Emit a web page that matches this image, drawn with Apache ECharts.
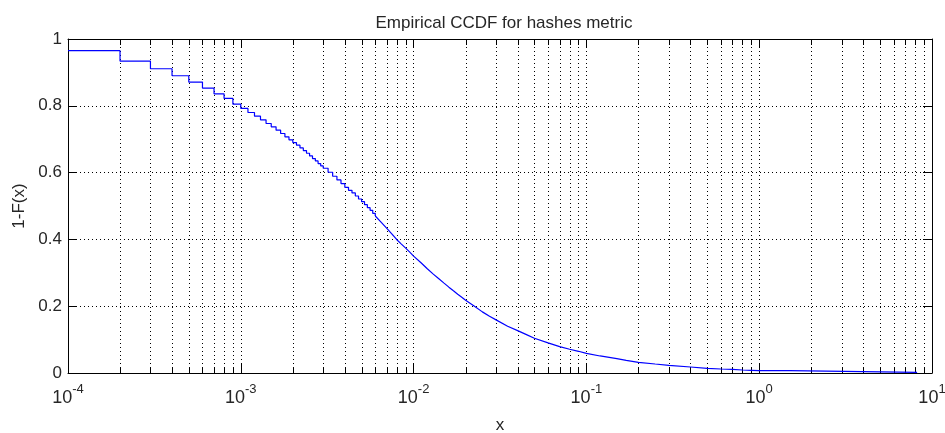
<!DOCTYPE html>
<html><head><meta charset="utf-8">
<script src="https://cdn.jsdelivr.net/npm/echarts@6/dist/echarts.min.js"></script>
<style>html,body{margin:0;padding:0;background:#fff}#c{width:945px;height:433px}</style>
</head><body><div id="c"></div>
<script>
const titleText = 'Empirical CCDF for hashes metric';
const xName = 'x';
const yName = '1-F(x)';

// coarse part of the CCDF where individual steps are visible
const stepX = [
  1e-4, 2e-4, 3e-4, 4e-4, 5e-4, 6e-4, 7e-4, 8e-4, 9e-4,
  1.0e-3, 1.1e-3, 1.2e-3, 1.3e-3, 1.4e-3, 1.5e-3, 1.6e-3, 1.7e-3, 1.8e-3, 1.9e-3,
  2.0e-3, 2.1e-3, 2.2e-3, 2.3e-3, 2.4e-3, 2.5e-3, 2.6e-3, 2.7e-3, 2.8e-3, 2.9e-3,
  3.0e-3, 3.2e-3, 3.4e-3, 3.6e-3, 3.8e-3, 4.0e-3, 4.2e-3, 4.4e-3, 4.6e-3, 4.8e-3,
  5.0e-3, 5.2e-3, 5.4e-3, 5.6e-3, 5.8e-3, 6.0e-3
];
const stepY = [
  0.965, 0.934, 0.911, 0.890, 0.871, 0.853, 0.836, 0.822, 0.805,
  0.792, 0.780, 0.769, 0.758, 0.747, 0.737, 0.727, 0.717, 0.707, 0.698,
  0.690, 0.682, 0.674, 0.666, 0.658, 0.650, 0.642, 0.635, 0.627, 0.620,
  0.613, 0.601, 0.589, 0.578, 0.567, 0.556, 0.547, 0.539, 0.530, 0.521,
  0.513, 0.504, 0.495, 0.487, 0.478, 0.470
];
// dense part where steps merge into a smooth curve
const smoothX = [
  6.0e-3, 6.5e-3, 7.0e-3, 7.5e-3, 8.0e-3, 8.5e-3, 9.0e-3, 9.5e-3,
  0.010, 0.011, 0.012, 0.013, 0.014, 0.015, 0.016, 0.017, 0.018, 0.019,
  0.020, 0.0225, 0.025, 0.0275, 0.030, 0.035, 0.040, 0.045, 0.050,
  0.060, 0.070, 0.080, 0.090, 0.10, 0.12, 0.15, 0.17, 0.20, 0.25, 0.30,
  0.40, 0.50, 0.60, 0.70, 0.80, 0.90, 1.0, 1.5, 1.5, 8.2
];
const smoothY = [
  0.470, 0.451, 0.433, 0.416, 0.399, 0.386, 0.374, 0.362,
  0.350, 0.331, 0.312, 0.296, 0.282, 0.269, 0.257, 0.246, 0.236, 0.227,
  0.218, 0.200, 0.183, 0.170, 0.159, 0.140, 0.127, 0.115, 0.104,
  0.090, 0.079, 0.071, 0.065, 0.059, 0.051, 0.043, 0.038, 0.032, 0.027, 0.023,
  0.018, 0.014, 0.012, 0.011, 0.009, 0.008, 0.007, 0.007, 0.002, 0.002
];

const xMin = 1e-4, xMax = 10;
const yMin = 0, yMax = 1, yStep = 0.2;
const decades = [1e-4, 1e-3, 1e-2, 1e-1, 1];
const minorMultipliers = [2, 3, 4, 5, 6, 7, 8, 9];
const minorTicks = [];
decades.forEach(d => minorMultipliers.forEach(m => minorTicks.push(m * d)));

const FONT = '"Liberation Sans", Arial, Helvetica, sans-serif';
const TXT = '#262626';
const AX = '#000';
const LINE = '#0000ff';

const chart = echarts.init(document.getElementById('c'), null, {renderer: 'canvas'});

function px(v) { return Math.round(v) + 0.5; }

const option = {
  animation: false,
  backgroundColor: '#fff',
  title: {
    text: titleText, left: 499, top: 10, textAlign: 'center',
    textStyle: {fontFamily: FONT, fontSize: 17, fontWeight: 'normal', color: TXT}
  },
  grid: {left: 68, right: 13, top: 39, bottom: 60, containLabel: false, outerBoundsMode: 'none'},
  xAxis: [{
    type: 'log', logBase: 10, min: xMin, max: xMax, position: 'bottom',
    name: xName, nameLocation: 'middle', nameGap: 44,
    nameTextStyle: {fontFamily: FONT, fontSize: 17, color: TXT},
    axisLine: {show: true, onZero: false, lineStyle: {color: AX, width: 1}},
    axisTick: {show: true, inside: true, length: 9, lineStyle: {color: AX}},
    splitLine: {show: true, lineStyle: {color: AX, width: 1, type: [1, 3]}},
    axisLabel: {
      margin: 10,
      formatter: function (v) {
        const e = Math.round(Math.log10(v));
        return '{b|10}{s|' + e + '}';
      },
      rich: {
        b: {fontFamily: FONT, fontSize: 18, color: TXT, lineHeight: 24, verticalAlign: 'bottom'},
        s: {fontFamily: FONT, fontSize: 13, color: TXT, lineHeight: 24, verticalAlign: 'top'}
      }
    }
  }, {
    type: 'log', logBase: 10, min: xMin, max: xMax, position: 'top',
    axisLine: {show: true, onZero: false, lineStyle: {color: AX, width: 1}},
    axisTick: {show: true, inside: true, length: 9, lineStyle: {color: AX}},
    splitLine: {show: false},
    axisLabel: {show: false}
  }],
  yAxis: [{
    type: 'value', min: yMin, max: yMax, interval: yStep, position: 'left',
    name: yName, nameLocation: 'middle', nameGap: 40, nameRotate: 90,
    nameTextStyle: {fontFamily: FONT, fontSize: 17, color: TXT},
    axisLine: {show: true, onZero: false, lineStyle: {color: AX, width: 1}},
    axisTick: {show: true, inside: true, length: 9, lineStyle: {color: AX}},
    splitLine: {show: true, lineStyle: {color: AX, width: 1, type: [1, 3]}},
    axisLabel: {margin: 6, fontFamily: FONT, fontSize: 17, color: TXT}
  }, {
    type: 'value', min: yMin, max: yMax, interval: yStep, position: 'right',
    axisLine: {show: true, onZero: false, lineStyle: {color: AX, width: 1}},
    axisTick: {show: true, inside: true, length: 9, lineStyle: {color: AX}},
    splitLine: {show: false},
    axisLabel: {show: false}
  }],
  series: [{
    type: 'custom',
    xAxisIndex: 0, yAxisIndex: 0,
    silent: true, z: 1,
    data: minorTicks.map(v => [v, 0]),
    renderItem: function (params, api) {
      const p = api.coord([api.value(0), 0]);
      const cs = params.coordSys;
      const x = px(p[0]);
      const top = cs.y, bot = cs.y + cs.height;
      return {
        type: 'group',
        children: [
          {type: 'line', shape: {x1: x, y1: top, x2: x, y2: bot},
           style: {stroke: AX, lineWidth: 1, lineDash: [1, 3]}},
          {type: 'line', shape: {x1: x, y1: bot, x2: x, y2: bot - 6},
           style: {stroke: AX, lineWidth: 1}},
          {type: 'line', shape: {x1: x, y1: top, x2: x, y2: top + 6},
           style: {stroke: AX, lineWidth: 1}}
        ]
      };
    }
  }, {
    type: 'line',
    xAxisIndex: 0, yAxisIndex: 0,
    step: 'end',
    showSymbol: false, symbol: 'none',
    z: 5,
    lineStyle: {color: LINE, width: 1.2},
    data: stepX.map((x, i) => [x, stepY[i]])
  }, {
    type: 'line',
    xAxisIndex: 0, yAxisIndex: 0,
    showSymbol: false, symbol: 'none',
    z: 5,
    lineStyle: {color: LINE, width: 1.2},
    data: smoothX.map((x, i) => [x, smoothY[i]])
  }]
};
chart.setOption(option);
</script></body></html>
